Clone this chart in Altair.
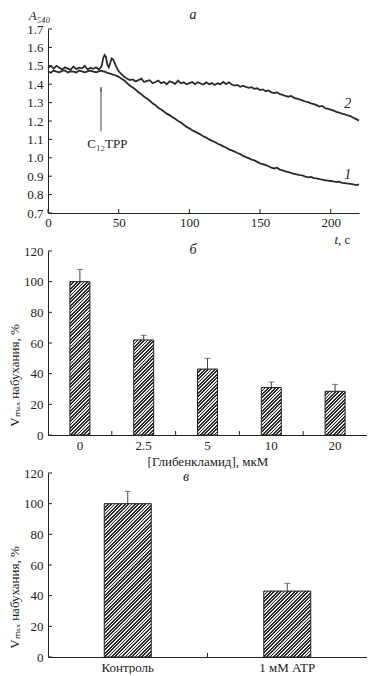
import math
import altair as alt
import pandas as pd

# ---------------- data ----------------
# panel a: absorbance A540 vs time (s)
t_sec = list(range(0, 37, 2)) + list(range(37, 50)) + list(range(50, 221, 2))

curve1 = [1.470, 1.462, 1.474, 1.468, 1.465, 1.472, 1.475, 1.464, 1.470, 1.468,
          1.464, 1.474, 1.470, 1.465, 1.470, 1.474, 1.468, 1.465, 1.470,
          1.472, 1.474, 1.470, 1.468, 1.466, 1.462, 1.460, 1.458, 1.455, 1.452,
          1.450, 1.447, 1.444,
          1.440, 1.430, 1.420, 1.406, 1.392, 1.382, 1.370, 1.356, 1.346, 1.332,
          1.322, 1.310, 1.296, 1.286, 1.272, 1.262, 1.252, 1.240, 1.232, 1.220,
          1.212, 1.200, 1.192, 1.180, 1.168, 1.160, 1.150, 1.142, 1.134, 1.126,
          1.116, 1.110, 1.100, 1.092, 1.086, 1.076, 1.070, 1.062, 1.056, 1.046,
          1.040, 1.034, 1.026, 1.020, 1.010, 1.004, 0.998, 0.990, 0.986, 0.978,
          0.970, 0.966, 0.960, 0.954, 0.946, 0.942, 0.946, 0.936, 0.932, 0.926,
          0.922, 0.918, 0.912, 0.910, 0.906, 0.904, 0.898, 0.894, 0.896, 0.890,
          0.888, 0.884, 0.882, 0.878, 0.876, 0.874, 0.872, 0.868, 0.870, 0.864,
          0.862, 0.860, 0.858, 0.856, 0.852, 0.856]

curve2 = [1.490, 1.500, 1.485, 1.500, 1.490, 1.480, 1.492, 1.485, 1.478, 1.496,
          1.482, 1.490, 1.486, 1.500, 1.480, 1.490, 1.484, 1.492, 1.480,
          1.488, 1.500, 1.540, 1.558, 1.548, 1.505, 1.492, 1.515, 1.540, 1.535,
          1.518, 1.500, 1.485,
          1.470, 1.455, 1.440, 1.430, 1.422, 1.426, 1.415, 1.422, 1.430, 1.412,
          1.418, 1.422, 1.405, 1.412, 1.420, 1.406, 1.412, 1.400, 1.416, 1.410,
          1.402, 1.420, 1.405, 1.410, 1.400, 1.406, 1.412, 1.400, 1.410, 1.404,
          1.398, 1.410, 1.400, 1.406, 1.396, 1.405, 1.400, 1.412, 1.400, 1.410,
          1.398, 1.392, 1.396, 1.386, 1.392, 1.385, 1.380, 1.384, 1.375, 1.378,
          1.368, 1.372, 1.362, 1.366, 1.356, 1.352, 1.356, 1.346, 1.342, 1.336,
          1.332, 1.336, 1.326, 1.322, 1.318, 1.312, 1.306, 1.302, 1.296, 1.292,
          1.286, 1.278, 1.282, 1.270, 1.266, 1.262, 1.256, 1.250, 1.246, 1.240,
          1.236, 1.230, 1.226, 1.218, 1.210, 1.202]

curve_labels = ["1", "2"]
curve_label_t = [212, 212]
curve_label_a = [0.905, 1.29]

arrow_t = 37.5
arrow_from = 1.145
arrow_to = 1.385
tpp_label = "C\u2081\u2082TPP"
tpp_t = 42
tpp_a = 1.075

a_xticks = [0, 50, 100, 150, 200]
a_yticks = [0.7, 0.8, 0.9, 1.0, 1.1, 1.2, 1.3, 1.4, 1.5, 1.6, 1.7]

# panel б: glibenclamide
glib_conc = ["0", "2.5", "5", "10", "20"]
glib_vmax = [100, 62, 43, 31, 28.5]
glib_err = [8, 3, 7, 3.5, 4.5]

# panel в: ATP
atp_groups = ["Контроль", "1 мМ ATP"]
atp_vmax = [100, 43]
atp_err = [8, 5]

bar_yticks = [0, 20, 40, 60, 80, 100, 120]

# ---------------- style ----------------
SERIF = "Liberation Serif"
INK = "#222222"
LINE = "#2b2b2b"
W_A, W_B, H = 311, 319, 184
TICK = 4


def hatch(w, h, p=2.4, frac=0.52, dark="#2a2a2a", light="#e8e8e8"):
    L = w + h
    k = L / (w * w + h * h)
    dt = p * math.sqrt(2) / L
    stops = []
    i = 0
    while i * dt < 1:
        t0 = i * dt
        t1 = min(t0 + frac * dt, 1.0)
        t2 = min(t0 + dt, 1.0)
        stops += [(t0, dark), (t1, dark), (t1, light), (t2, light)]
        i += 1
    return alt.LinearGradient(
        gradient="linear", x1=0, y1=0, x2=w * k, y2=h * k,
        stops=[alt.GradientStop(offset=round(o, 5), color=c) for o, c in stops])


# ---------------- panel a ----------------
n = len(t_sec)
df_a = pd.DataFrame({"t": t_sec * 2, "A": curve1 + curve2,
                     "curve": ["1"] * n + ["2"] * n})

xa = alt.X("t:Q", scale=alt.Scale(domain=[0, 220], nice=False),
           axis=alt.Axis(values=a_xticks, tickSize=0, labelPadding=3, title=None,
                         labelFlush=False))
ya = alt.Y("A:Q", scale=alt.Scale(domain=[0.7, 1.7], nice=False, zero=False),
           axis=alt.Axis(values=a_yticks, format=".1f", tickSize=0, labelPadding=5,
                         labelOverlap=False,
                         title="A\u2085\u2084\u2080", titleAngle=0, titleX=-9, titleY=-14,
                         titleAlign="center", titleBaseline="middle",
                         titleFontStyle="italic"))

lines = alt.Chart(df_a).mark_line(color=LINE, strokeWidth=1.8).encode(
    x=xa, y=ya, detail="curve:N")

ytick_a = alt.Chart(pd.DataFrame({"A": a_yticks})).mark_rule(color=INK).encode(
    y=ya, x=alt.value(0), x2=alt.value(TICK))
xtick_a = alt.Chart(pd.DataFrame({"t": a_xticks})).mark_rule(color=INK).encode(
    x=xa, y=alt.value(H), y2=alt.value(H - TICK))

lab_a = alt.Chart(pd.DataFrame({"t": curve_label_t, "A": curve_label_a,
                                "lab": curve_labels})).mark_text(
    font=SERIF, fontSize=14, fontStyle="italic", color=INK).encode(x=xa, y=ya, text="lab:N")

arrow_df = pd.DataFrame({"t": [arrow_t], "A": [arrow_from], "A2": [arrow_to]})
arrow = alt.Chart(arrow_df).mark_rule(color="#444", strokeWidth=1).encode(
    x=xa, y=ya, y2="A2:Q")
head = alt.Chart(pd.DataFrame({"t": [arrow_t], "A": [arrow_to]})).mark_point(
    shape="M0,0L0.45,2.2L-0.45,2.2Z", filled=True, color="#444", size=16, opacity=1).encode(x=xa, y=ya)
tpp = alt.Chart(pd.DataFrame({"t": [tpp_t], "A": [tpp_a], "lab": [tpp_label]})).mark_text(
    font=SERIF, fontSize=13, color=INK).encode(x=xa, y=ya, text="lab:N")

title_a = alt.Chart(pd.DataFrame({"lab": ["a"]})).mark_text(
    font=SERIF, fontSize=14, fontStyle="italic", color=INK).encode(
    x=alt.value(145), y=alt.value(-14), text="lab:N")
t_unit1 = alt.Chart(pd.DataFrame({"lab": ["t"]})).mark_text(
    font=SERIF, fontSize=13, fontStyle="italic", color=INK, align="right").encode(
    x=alt.value(W_A - 21), y=alt.value(H + 27), text="lab:N")
t_unit2 = alt.Chart(pd.DataFrame({"lab": [", с"]})).mark_text(
    font=SERIF, fontSize=13, color=INK, align="left").encode(
    x=alt.value(W_A - 21), y=alt.value(H + 27), text="lab:N")

panel_a = alt.layer(lines, ytick_a, xtick_a, lab_a, arrow, head, tpp, title_a,
                    t_unit1, t_unit2).properties(width=W_A, height=H)


# ---------------- bar panels ----------------
def bar_panel(cats, vals, errs, bar_w, xtitle, letter, letter_x, letter_y, label_pad):
    df = pd.DataFrame({"cat": cats, "v": vals, "top": [v + e for v, e in zip(vals, errs)]})
    x_scale = alt.Scale(paddingInner=0, paddingOuter=0)
    x_axis = alt.Axis(labelAngle=0, tickSize=0, labelPadding=label_pad,
                      title=xtitle, titlePadding=3, titleFontWeight="normal")
    y_scale = alt.Scale(domain=[0, 120], nice=False)
    y_axis = alt.Axis(values=bar_yticks, tickSize=0, labelPadding=5, labelOverlap=False,
                      title="V\u2098\u2090\u2093 набухания, %", titleAngle=-90,
                      titleX=-34, titleY=124, titleAlign="center", titleBaseline="middle")
    xb = alt.X("cat:N", sort=cats, scale=x_scale, axis=x_axis)
    yb = alt.Y("v:Q", scale=y_scale, axis=y_axis)
    layers = []
    err = alt.Chart(df).mark_rule(color="#444", strokeWidth=1).encode(x=xb, y=yb, y2="top:Q")
    cap = alt.Chart(df).mark_tick(color="#444", size=6, thickness=1).encode(
        x=xb, y=alt.Y("top:Q", scale=y_scale, axis=y_axis))
    layers += [err, cap]
    for c, v in zip(cats, vals):
        h = v / 120 * H
        layers.append(
            alt.Chart(df).transform_filter(alt.datum.cat == c).mark_bar(
                width=bar_w, fill=hatch(bar_w, h), stroke=INK, strokeWidth=1).encode(x=xb, y=yb))
    ytick = alt.Chart(pd.DataFrame({"v": bar_yticks})).mark_rule(color=INK).encode(
        y=yb, x=alt.value(0), x2=alt.value(TICK))
    xtick = alt.Chart(pd.DataFrame({"cat": cats[1:]})).mark_rule(color=INK).encode(
        x=alt.X("cat:N", sort=cats, bandPosition=0, axis=x_axis, scale=x_scale),
        y=alt.value(H), y2=alt.value(H - TICK))
    lt = alt.Chart(pd.DataFrame({"lab": [letter]})).mark_text(
        font=SERIF, fontSize=14, fontStyle="italic", color=INK).encode(
        x=alt.value(letter_x), y=alt.value(letter_y), text="lab:N")
    layers += [ytick, xtick, lt]
    return alt.layer(*layers).properties(width=W_B, height=H)


panel_b = bar_panel(glib_conc, glib_vmax, glib_err, 20, "[Глибенкламид], мкМ", "б", 145, -1, 4)
panel_c = bar_panel(atp_groups, atp_vmax, atp_err, 47, None, "в", 138, 4, 4)

chart = alt.vconcat(panel_a, panel_b, panel_c, spacing=38, bounds="flush").properties(
    padding=0
).configure_view(stroke=None).configure_axis(
    labelFont=SERIF, titleFont=SERIF, labelFontSize=13, titleFontSize=13,
    labelColor=INK, titleColor=INK, domainColor=INK, domainWidth=1, grid=False,
    titleFontWeight="normal")

chart.save("out.html", embed_options={"renderer": "svg", "actions": False})
